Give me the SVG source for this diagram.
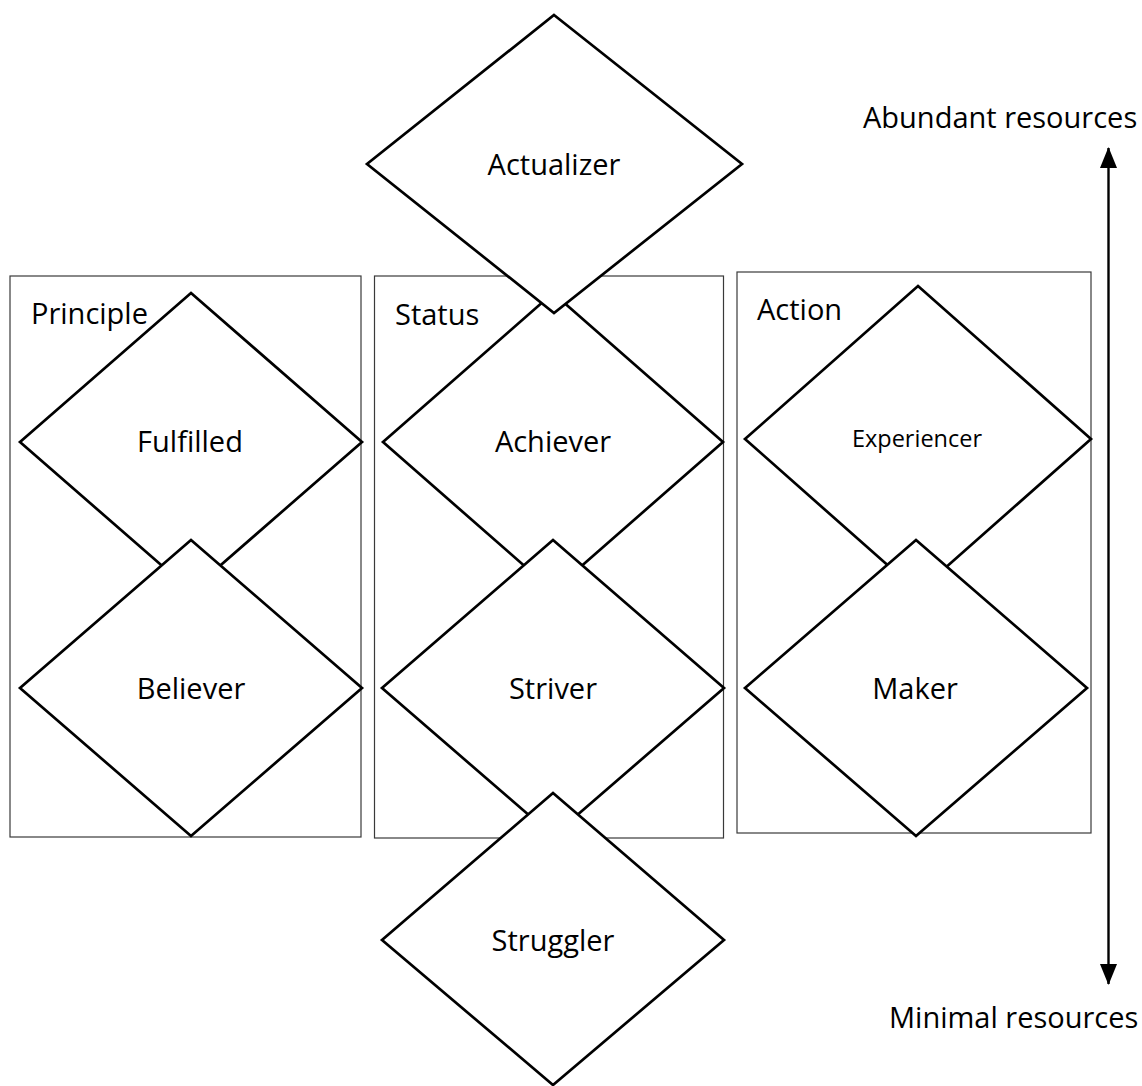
<svg xmlns="http://www.w3.org/2000/svg" width="1142" height="1086" viewBox="0 0 1142 1086">
<style>
.box{fill:#fff;stroke:#3a3a3a;stroke-width:1.2}
.dia{fill:#fff;stroke:#000;stroke-width:2.7;stroke-linejoin:miter}
text{font-family:"Open Sans","Noto Sans","Liberation Sans",sans-serif;font-size:29px;fill:#000}
.c{text-anchor:middle}
.axis{stroke:#000;stroke-width:2.4;fill:none}
</style>
<defs>
<marker id="ah" viewBox="0 0 21 17" refX="20" refY="8.5" markerWidth="21" markerHeight="17" markerUnits="userSpaceOnUse" orient="auto-start-reverse">
<path d="M0,0 L21,8.5 L0,17 Z" fill="#000"/>
</marker>
</defs>
<rect width="1142" height="1086" fill="#fff"/>
<g id="group-principle">
<rect class="box" x="10" y="276" width="351" height="561"/>
<text x="31" y="324">Principle</text>
</g>
<g id="group-status">
<rect class="box" x="374.5" y="276" width="349" height="562"/>
<text x="395" y="325">Status</text>
</g>
<g id="group-action">
<rect class="box" x="737" y="272" width="354" height="561"/>
<text x="757" y="320">Action</text>
</g>
<g id="node-fulfilled">
<polygon class="dia" points="191,293 362,442 191,591 20,442"/>
<text class="c" x="190" y="452">Fulfilled</text>
</g>
<g id="node-believer">
<polygon class="dia" points="191,540 362,688 191,836 20,688"/>
<text class="c" x="191" y="699">Believer</text>
</g>
<g id="node-achiever">
<polygon class="dia" points="553,293 723,442 553,591 383,442"/>
<text class="c" x="553" y="452">Achiever</text>
</g>
<g id="node-actualizer">
<polygon class="dia" points="554,15 742,164 554,313 367,164"/>
<text class="c" x="554" y="175">Actualizer</text>
</g>
<g id="node-striver">
<polygon class="dia" points="553,540 724,688 553,836 382,688"/>
<text class="c" x="553" y="699">Striver</text>
</g>
<g id="node-struggler">
<polygon class="dia" points="553,793 724,940 553,1085 382,940"/>
<text class="c" x="553" y="951">Struggler</text>
</g>
<g id="node-experiencer">
<polygon class="dia" points="918,286 1091,439 918,592 745,439"/>
<text class="c" x="917" y="447" style="font-size:23.5px">Experiencer</text>
</g>
<g id="node-maker">
<polygon class="dia" points="916,540 1087,688 916,836 745,688"/>
<text class="c" x="915" y="699">Maker</text>
</g>
<g id="connectors">
<line class="axis" x1="1108.5" y1="148" x2="1108.5" y2="984" marker-start="url(#ah)" marker-end="url(#ah)"/>
</g>
<g id="labels">
<text x="863" y="128">Abundant resources</text>
<text x="889" y="1028">Minimal resources</text>
</g>
</svg>
